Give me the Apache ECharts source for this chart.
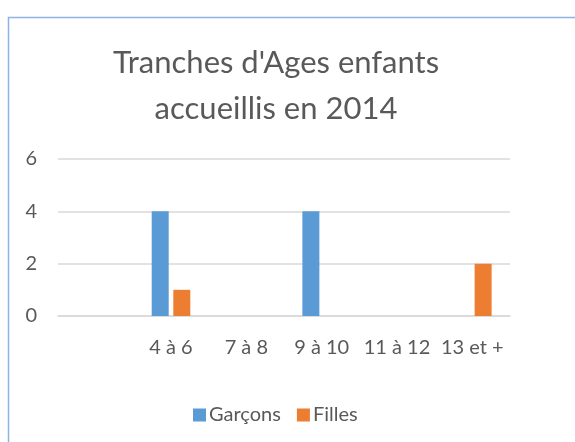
<!DOCTYPE html>
<html><head><meta charset="utf-8">
<script src="https://cdn.jsdelivr.net/npm/echarts@6/dist/echarts.min.js"></script>
<style>html,body{margin:0;padding:0;background:#fff}#c{width:575px;height:442px}</style>
</head><body><div id="c"></div>
<script>
const categories = ['', '4 à 6', '7 à 8', '9 à 10', '11 à 12', '13 et +'];
const garcons = [0, 4, 0, 4, 0, 0];
const filles = [0, 1, 0, 0, 0, 2];
const yTicks = [0, 2, 4, 6];
const FONT = 'Lato';
const chart = echarts.init(document.getElementById('c'));
chart.setOption({
  animation: false,
  backgroundColor: '#fff',
  graphic: [{type:'rect', shape:{x:8.5,y:17.5,width:700,height:600}, style:{fill:'none', stroke:'#8db4e2', lineWidth:1.5}, silent:true}],
  title: {
    text: "Tranches d'Ages enfants\naccueillis en 2014",
    left: 271, textAlign: 'center', top: 35,
    textStyle: {fontFamily: FONT, fontSize: 31, fontWeight: 'normal', color: '#595959', lineHeight: 46}
  },
  legend: {
    data: ['Garçons', 'Filles'], top: 400, left: 188,
    itemWidth: 13, itemHeight: 13, itemGap: 16,
    icon: 'rect',
    textStyle: {fontFamily: FONT, fontSize: 20, color: '#595959', padding:[0,0,0,-2]}
  },
  grid: {left: 58, right: 65, top: 159, bottom: 126, containLabel: false},
  xAxis: {
    type: 'category', data: categories,
    axisLine: {lineStyle: {color: '#d9d9d9', width: 1.5}},
    axisTick: {show: false},
    axisLabel: {fontFamily: FONT, fontSize: 20, color: '#595959', margin: 22, interval: 0}
  },
  yAxis: {
    type: 'value', min: yTicks[0], max: yTicks[yTicks.length-1], interval: 2,
    axisLine: {show: false}, axisTick: {show: false},
    splitLine: {lineStyle: {color: '#d9d9d9', width: 1.5}},
    axisLabel: {fontFamily: FONT, fontSize: 20, color: '#595959', margin: 21}
  },
  series: [
    {name: 'Garçons', type: 'bar', data: garcons, barWidth: 17, barGap: '27%', itemStyle: {color: '#5b9bd5'}},
    {name: 'Filles', type: 'bar', data: filles, barWidth: 17, itemStyle: {color: '#ed7d31'}}
  ]
});
</script></body></html>
